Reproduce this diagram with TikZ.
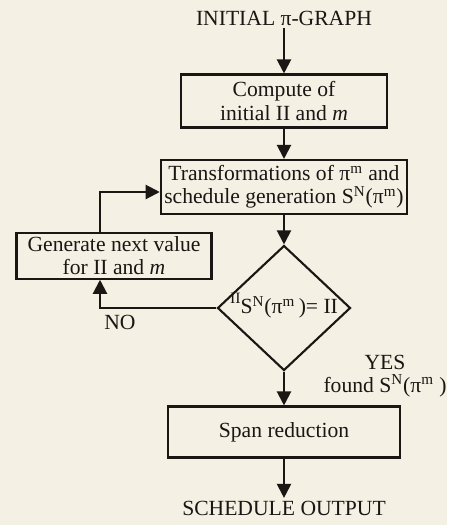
\documentclass[tikz,border=0pt]{standalone}
\usepackage{fontspec}
\setmainfont{Liberation Serif}
\usetikzlibrary{arrows.meta, shapes.geometric, calc}
\definecolor{paper}{RGB}{244,240,227}
\definecolor{ink}{RGB}{25,22,20}

\begin{document}
\begin{tikzpicture}[x=0.02cm, y=-0.02cm, line width=1.2pt, color=ink,
  box/.style={draw, rectangle, align=center, inner sep=2pt,
    font=\fontsize{12.3}{13.2}\selectfont},
  txt/.style={font=\fontsize{12.3}{13.2}\selectfont, inner sep=1pt},
  flow/.style={-{Triangle[width=8pt,length=8pt]}}]

 %% background, gives the page its size
 \fill[paper] (0,0) rectangle (447,525);

 %% main column
 \node[txt] (start) at (284,18) {INITIAL π-GRAPH};
 \node[box, minimum width=4.12cm, minimum height=1.06cm] (comp) at (284,101)
   {Compute of\\initial II and \textit{m}};
 \node[box, minimum width=4.54cm, minimum height=1.08cm] (trans) at (284,187)
   {Transformations of π\textsuperscript{m} and\\schedule generation S\textsuperscript{N}(π\textsuperscript{m})};
 \node[diamond, draw, minimum width=2.66cm, minimum height=2.5cm, inner sep=0pt] (dec) at (284,308) {};
 \node[txt] (cond) at (284,306)
   {\raisebox{1ex}{\small II}S\textsuperscript{N}(π\textsuperscript{m}\,)= II};
 \node[box, minimum width=4.64cm, minimum height=1.02cm] (span) at (284,432) {Span reduction};
 \node[txt] (out) at (284,508) {SCHEDULE OUTPUT};

 %% loop back
 \node[box, minimum width=3.9cm, minimum height=0.76cm] (gen) at (114,256)
   {Generate next value\\for II and \textit{m}};

 %% labels
 \node[txt] (no) at (120,322) {NO};
 \node[txt, align=center] (yes) at (385,376) {YES\\found S\textsuperscript{N}(π\textsuperscript{m} )};

 \draw[flow] (start) -- (comp);
 \draw[flow] (comp) -- (trans);
 \draw[flow] (trans) -- (dec);
 \draw[flow] (dec) -- (span);
 \draw[flow] (span) -- (out);
 % NO branch
 \draw[flow] (dec.west) -| ([xshift=-0.28cm]gen.south);
 \draw[flow] ([xshift=-0.28cm]gen.north) |- ([yshift=-0.1cm]trans.west);

\end{tikzpicture}
\end{document}
